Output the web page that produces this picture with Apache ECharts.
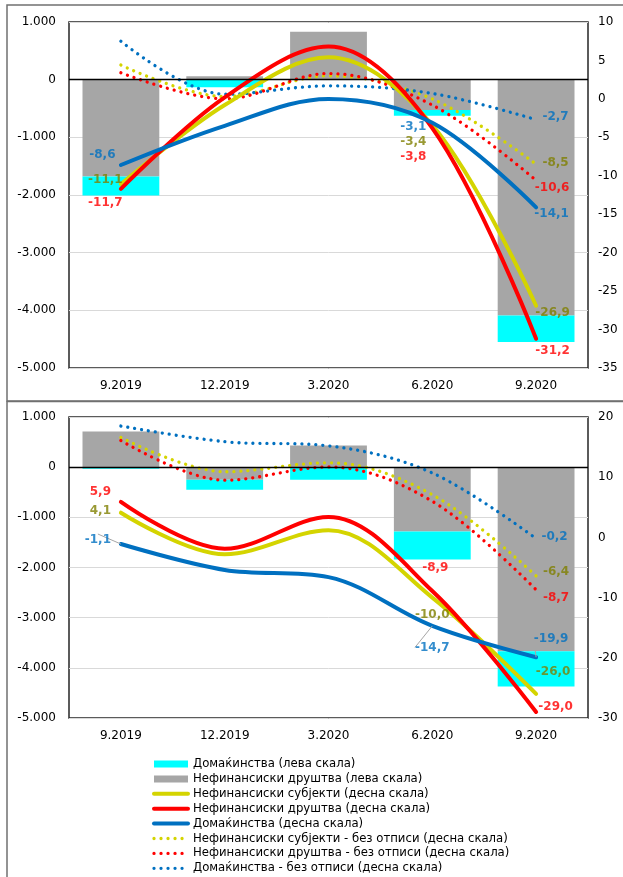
<!DOCTYPE html>
<html>
<head>
<meta charset="utf-8">
<script src="https://cdn.jsdelivr.net/npm/echarts@6/dist/echarts.min.js"></script>
<style>
  html, body { margin: 0; padding: 0; background: #ffffff; }
  #chart { width: 623px; height: 877px; }
</style>
</head>
<body>
<div id="chart"></div>
<script>
// Quarter labels shared by both panels
const categories = ['9.2019', '12.2019', '3.2020', '6.2020', '9.2020'];

// Upper panel: bars in millions (left scale), lines in % (right scale)
const upperHouseholdsBar = [-330, -130, 0, -100, -460];
const upperCorporatesBar = [-1680, 60, 830, -525, -4090];
const upperSubjects = [-11.1, -0.8, 5.4, -3.4, -26.9];
const upperCorporates = [-11.7, 0.2, 6.8, -3.8, -31.2];
const upperHouseholds = [-8.6, -3.5, 0.0, -3.1, -14.1];
const upperSubjectsExWO = [4.4, 0.3, 3.0, 0.0, -8.5];
const upperCorporatesExWO = [3.4, 0.0, 3.3, -0.8, -10.6];
const upperHouseholdsExWO = [7.5, 0.6, 1.7, 0.7, -2.7];

// Lower panel
const lowerHouseholdsBar = [-30, -200, -250, -560, -700];
const lowerCorporatesBar = [710, -250, 430, -1280, -3670];
const lowerSubjects = [4.1, -2.8, 1.2, -10.0, -26.0];
const lowerCorporates = [5.9, -1.9, 3.4, -8.9, -29.0];
const lowerHouseholds = [-1.1, -5.4, -6.6, -14.7, -19.9];
const lowerSubjectsExWO = [16.6, 10.9, 12.4, 7.1, -6.4];
const lowerCorporatesExWO = [16.1, 9.5, 11.7, 6.0, -8.7];
const lowerHouseholdsExWO = [18.5, 15.9, 15.2, 10.7, -0.2];

// Axis ranges
const upperLeftAxis = { min: -5000, max: 1000, interval: 1000 };
const upperRightAxis = { min: -35, max: 10, interval: 5 };
const lowerLeftAxis = { min: -5000, max: 1000, interval: 1000 };
const lowerRightAxis = { min: -30, max: 20, interval: 10 };

// Legend names
const names = {
  hhBar: 'Домаќинства (лева скала)',
  corpBar: 'Нефинансиски друштва (лева скала)',
  subj: 'Нефинансиски субјекти (десна скала)',
  corp: 'Нефинансиски друштва (десна скала)',
  hh: 'Домаќинства (десна скала)',
  subjEx: 'Нефинансиски субјекти - без отписи (десна скала)',
  corpEx: 'Нефинансиски друштва - без отписи (десна скала)',
  hhEx: 'Домаќинства - без отписи (десна скала)'
};

// Colours
const C = {
  cyan: '#00FFFF', gray: '#A6A6A6', yellow: '#D4D400', red: '#FF0000', blue: '#0070C0',
  olive: '#7F7F00'
};

// Value-label placement: point index -> [dx, dy] offset of the text centre
const upperLabels = {
  subj: { 0: [-15.5, -4], 3: [-19, 17], 4: [16.5, 7] },
  corp: { 0: [-15.5, 14.5], 3: [-19, 29], 4: [16.5, 12] },
  hh: { 0: [-18.5, -10], 3: [-19, 3.7], 4: [15.5, 7] },
  subjEx: { 4: [19.5, -1.5] },
  corpEx: { 4: [16, 7.5] },
  hhEx: { 4: [19.5, -3] }
};
const lowerLabels = {
  subj: { 0: [-20.5, -1.7], 3: [0, 17.5], 4: [17, -22] },
  corp: { 0: [-20.5, -10.5], 3: [3, -23], 4: [19.5, -5.5] },
  hh: { 0: [-23, -4], 3: [0, 21.5], 4: [15, -18.5] },
  subjEx: { 4: [20, -4] },
  corpEx: { 4: [20, 8] },
  hhEx: { 4: [18.5, -2] }
};

const FONT = 'DejaVu Sans';
const SMOOTH = 0.35;
const SOLID_W = 4;
const DOT_STYLE = { width: 3.3, type: [0.01, 7], cap: 'round' };
const fmtDec = v => (Math.round(v * 10) / 10).toFixed(1).replace('.', ',');
const fmtThousands = v => {
  const s = Math.abs(v).toString().replace(/\B(?=(\d{3})+(?!\d))/g, '.');
  return (v < 0 ? '-' : '') + s;
};

function barSeries(name, data, color, gridIdx, withZeroLine) {
  const s = {
    name, type: 'bar', stack: 'bars' + gridIdx, data,
    xAxisIndex: gridIdx, yAxisIndex: gridIdx * 2,
    barWidth: '74%',
    itemStyle: { color },
    z: 1
  };
  if (withZeroLine) {
    s.markLine = {
      silent: true, symbol: 'none', label: { show: false },
      lineStyle: { color: '#000000', width: 1.3, type: 'solid' },
      emphasis: { disabled: true },
      data: [{ yAxis: 0 }]
    };
  }
  return s;
}

function lineSeries(name, data, color, gridIdx, dotted) {
  return {
    name, type: 'line', data, smooth: SMOOTH, symbol: 'none',
    xAxisIndex: gridIdx, yAxisIndex: gridIdx * 2 + 1,
    lineStyle: dotted
      ? Object.assign({ color }, DOT_STYLE)
      : { color, width: SOLID_W, cap: 'round' },
    itemStyle: { color },
    z: dotted ? 3 : 4
  };
}

// Value labels; with leader=true the text is moved by labelLayout and joined to its point
function labelSeries(values, placement, color, gridIdx, leader) {
  const s = {
    type: 'scatter', silent: true, symbolSize: 0,
    xAxisIndex: gridIdx, yAxisIndex: gridIdx * 2 + 1,
    data: values.map((v, i) => placement[i]
      ? { value: v, label: { show: true, offset: leader ? [0, 0] : placement[i] } }
      : { value: v, label: { show: false } }),
    label: {
      position: 'inside', color, fontFamily: FONT, fontWeight: 'bold', fontSize: 12,
      formatter: p => fmtDec(p.value)
    },
    z: 10
  };
  if (leader) {
    s.labelLayout = p => {
      const o = placement[p.dataIndex];
      return o ? { dx: o[0], dy: o[1] } : {};
    };
    s.labelLine = { show: true, lineStyle: { color: '#A6A6A6', width: 1 } };
  }
  return s;
}

function panelSeries(g, d, labels, hhLeader) {
  return [
    barSeries(names.corpBar, d.corpBar, C.gray, g, false),
    barSeries(names.hhBar, d.hhBar, C.cyan, g, true),
    lineSeries(names.subjEx, d.subjEx, C.yellow, g, true),
    lineSeries(names.corpEx, d.corpEx, C.red, g, true),
    lineSeries(names.hhEx, d.hhEx, C.blue, g, true),
    lineSeries(names.subj, d.subj, C.yellow, g, false),
    lineSeries(names.corp, d.corp, C.red, g, false),
    lineSeries(names.hh, d.hh, C.blue, g, false),
    labelSeries(d.subj, labels.subj, C.olive, g, false),
    labelSeries(d.corp, labels.corp, C.red, g, false),
    labelSeries(d.hh, labels.hh, C.blue, g, hhLeader),
    labelSeries(d.subjEx, labels.subjEx, C.olive, g, false),
    labelSeries(d.corpEx, labels.corpEx, C.red, g, false),
    labelSeries(d.hhEx, labels.hhEx, C.blue, g, false)
  ];
}

const axisText = { color: '#000000', fontFamily: FONT, fontSize: 12 };

function xAxis(g) {
  return {
    type: 'category', gridIndex: g, data: categories,
    axisLine: { show: false }, axisTick: { show: false },
    axisLabel: Object.assign({ margin: 12 }, axisText),
    splitLine: { show: false }
  };
}
function leftAxis(g, r) {
  return {
    type: 'value', gridIndex: g, position: 'left', min: r.min, max: r.max, interval: r.interval,
    axisLine: { show: false }, axisTick: { show: false },
    axisLabel: Object.assign({ margin: 13, formatter: fmtThousands }, axisText),
    splitLine: { show: true, lineStyle: { color: '#D9D9D9', width: 1 } }
  };
}
function rightAxis(g, r) {
  return {
    type: 'value', gridIndex: g, position: 'right', min: r.min, max: r.max, interval: r.interval,
    axisLine: { show: false }, axisTick: { show: false },
    axisLabel: Object.assign({ margin: 10 }, axisText),
    splitLine: { show: false }
  };
}

const legendOrder = [names.hhBar, names.corpBar, names.subj, names.corp, names.hh,
  names.subjEx, names.corpEx, names.hhEx];
const barNames = [names.hhBar, names.corpBar];
const dottedNames = [names.subjEx, names.corpEx, names.hhEx];

const option = {
  animation: false,
  backgroundColor: '#ffffff',
  graphic: [
    { type: 'rect', shape: { x: 7, y: 5, width: 640, height: 396 },
      style: { fill: 'none', stroke: '#707070', lineWidth: 1.5 }, silent: true },
    { type: 'rect', shape: { x: 7, y: 401.5, width: 640, height: 500 },
      style: { fill: 'none', stroke: '#707070', lineWidth: 1.5 }, silent: true }
  ],
  grid: [
    { left: 69, top: 22, width: 519, height: 346, show: true, borderColor: '#262626', borderWidth: 1.5 },
    { left: 69, top: 417, width: 519, height: 301, show: true, borderColor: '#262626', borderWidth: 1.5 }
  ],
  xAxis: [xAxis(0), xAxis(1)],
  yAxis: [leftAxis(0, upperLeftAxis), rightAxis(0, upperRightAxis),
          leftAxis(1, lowerLeftAxis), rightAxis(1, lowerRightAxis)],
  legend: {
    orient: 'vertical', left: 152, top: 757.5, padding: 0,
    itemWidth: 34, itemHeight: 7, itemGap: 1.9,
    textStyle: { color: '#000000', fontFamily: FONT, fontSize: 11.7, lineHeight: 13 },
    data: legendOrder.map(n => {
      if (barNames.includes(n)) return { name: n, icon: 'rect' };
      const lineStyle = dottedNames.includes(n)
        ? Object.assign({}, DOT_STYLE)
        : { width: SOLID_W, cap: 'round' };
      return { name: n, itemStyle: { opacity: 0 }, lineStyle };
    }),
    selectedMode: false
  },
  series: [].concat(
    panelSeries(0, {
      hhBar: upperHouseholdsBar, corpBar: upperCorporatesBar,
      subj: upperSubjects, corp: upperCorporates, hh: upperHouseholds,
      subjEx: upperSubjectsExWO, corpEx: upperCorporatesExWO, hhEx: upperHouseholdsExWO
    }, upperLabels, false),
    panelSeries(1, {
      hhBar: lowerHouseholdsBar, corpBar: lowerCorporatesBar,
      subj: lowerSubjects, corp: lowerCorporates, hh: lowerHouseholds,
      subjEx: lowerSubjectsExWO, corpEx: lowerCorporatesExWO, hhEx: lowerHouseholdsExWO
    }, lowerLabels, true)
  )
};

const chart = echarts.init(document.getElementById('chart'), null, { renderer: 'canvas' });
chart.setOption(option);
</script>
</body>
</html>
